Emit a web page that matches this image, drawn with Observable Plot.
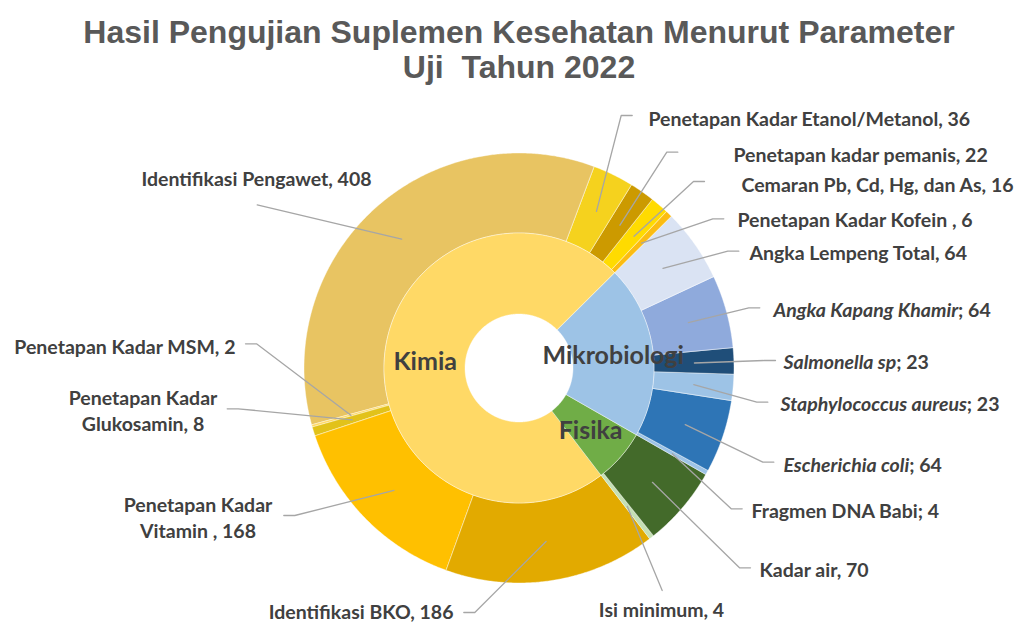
<!DOCTYPE html>
<html><head><meta charset="utf-8">
<script src="https://cdn.jsdelivr.net/npm/d3@7"></script>
<script src="https://cdn.jsdelivr.net/npm/@observablehq/plot@0.6"></script>
<style>
body{margin:0;background:#fff;width:1019px;height:624px;overflow:hidden}
#title{box-sizing:border-box;height:90px;padding:15px 0 0 19px;width:1019px;text-align:center;font-family:"Liberation Sans",Arial,sans-serif;font-weight:bold;font-size:32px;line-height:35px;color:#595959;white-space:pre}
#chart svg{display:block}
</style></head><body>
<div id="title">Hasil Pengujian Suplemen Kesehatan Menurut Parameter
Uji  Tahun 2022</div>
<div id="chart"></div>
<script>
// ---- data ----
const groups = ["Kimia", "Mikrobiologi", "Fisika"];
const parameter = [
  "Identifikasi BKO", "Penetapan Kadar Vitamin ", "Penetapan Kadar Glukosamin", "Penetapan Kadar MSM",
  "Identifikasi Pengawet", "Penetapan Kadar Etanol/Metanol", "Penetapan kadar pemanis",
  "Cemaran Pb, Cd, Hg, dan As", "Penetapan Kadar Kofein ",
  "Angka Lempeng Total", "Angka Kapang Khamir", "Salmonella sp", "Staphylococcus aureus",
  "Escherichia coli", "Fragmen DNA Babi",
  "Kadar air", "Isi minimum"
];
const parameterGroup = [
  "Kimia", "Kimia", "Kimia", "Kimia", "Kimia", "Kimia", "Kimia", "Kimia", "Kimia",
  "Mikrobiologi", "Mikrobiologi", "Mikrobiologi", "Mikrobiologi", "Mikrobiologi", "Mikrobiologi",
  "Fisika", "Fisika"
];
const jumlah = [186, 168, 8, 2, 408, 36, 22, 16, 6, 64, 64, 23, 23, 64, 4, 70, 4];
const separator = [", ", ", ", ", ", ", ", ", ", ", ", ", ", ", ", ", ", ", ", "; ", "; ", "; ", "; ", "; ", ", ", ", "];
const italicName = [false, false, false, false, false, false, false, false, false, false, true, true, true, true, false, false, false];

// ---- styles / layout ----
const groupColor = {Kimia: "#FFD966", Mikrobiologi: "#9DC3E6", Fisika: "#70AD47"};
const paramColor = ["#E2AA00", "#FFC000", "#E2C21A", "#FFD966", "#E8C462", "#F5D21E", "#CC9A00", "#FFDB00", "#FBBC12",
  "#DAE3F3", "#8FAADC", "#1F4E79", "#9DC3E6", "#2E75B6", "#9DC3E6", "#436A2A", "#C5E0B4"];
const START = 142.6;            // degrees clockwise from 12 o'clock
const R_HOLE = 54, R_MID = 135, R_OUT = 215, R_LEADER = 175, R_INNER_LABEL = 94.5;
const CX = 519, CY = 278, W = 1019, H = 534;
// label placement: key, side, anchor, text x, text y, leader end x, leader end y, wrapped
const labelLayout = [
  ["Identifikasi BKO", "left", "end", -66, 242, -55.7, 244, false],
  ["Penetapan Kadar Vitamin ", "left", "middle", -321.5, 148, -235.7, 147, true],
  ["Penetapan Kadar Glukosamin", "left", "middle", -376.5, 41, -292.3, 40.3, true],
  ["Penetapan Kadar MSM", "left", "end", -284, -23, -274, -24.7, false],
  ["Identifikasi Pengawet", "above", "middle", -263, -191.3, -262.3, -163.7, false],
  ["Penetapan Kadar Etanol/Metanol", "right", "start", 129, -251, 112.7, -253, false],
  ["Penetapan kadar pemanis", "right", "start", 214, -215, 158.3, -216.3, false],
  ["Cemaran Pb, Cd, Hg, dan As", "right", "start", 222, -185, 185, -187, false],
  ["Penetapan Kadar Kofein ", "right", "start", 218, -150, 204.3, -149.7, false],
  ["Angka Lempeng Total", "right", "start", 230, -117, 219.3, -117.3, false],
  ["Angka Kapang Khamir", "right", "start", 254, -60, 240.3, -60.7, false],
  ["Salmonella sp", "right", "start", 264, -8, 256, -8, false],
  ["Staphylococcus aureus", "right", "start", 261, 34, 248.3, 33.7, false],
  ["Escherichia coli", "right", "start", 264, 95, 254.3, 93.7, false],
  ["Fragmen DNA Babi", "right", "start", 232, 141, 222.7, 140.3, false],
  ["Kadar air", "right", "start", 240, 200, 231, 199.3, false],
  ["Isi minimum", "below", "middle", 142, 240, 142.7, 222, false]
];

// ---- geometry ----
const total = d3.sum(jumlah);
const deg = v => v / total * 360;
const rad = a => a * Math.PI / 180;
const px = (r, a) => r * Math.sin(rad(a));
const py = (r, a) => -r * Math.cos(rad(a));

let acc = START;
const outer = parameter.map((p, i) => {
  const a0 = acc; acc += deg(jumlah[i]);
  return {key: p, value: jumlah[i], a0, a1: acc, color: paramColor[i], i};
});
acc = START;
const inner = groups.map(g => {
  const v = d3.sum(jumlah.filter((_, i) => parameterGroup[i] === g));
  const a0 = acc; acc += deg(v);
  return {key: g, value: v, a0, a1: acc, color: groupColor[g]};
});

function ring(slices, r0, r1) {
  const pts = [];
  for (const s of slices) {
    const n = Math.max(2, Math.ceil((s.a1 - s.a0) / 0.4) + 1);
    for (let k = 0; k < n; k++) {
      const a = s.a0 + (s.a1 - s.a0) * k / (n - 1);
      pts.push({key: s.key, color: s.color, x1: px(r0, a), y1: py(r0, a), x2: px(r1, a), y2: py(r1, a)});
    }
  }
  return pts;
}

const leaders = [];
const labels = [];
for (const [key, side, anchor, tx, ty, ex, ey, wrap] of labelLayout) {
  const s = outer.find(d => d.key === key);
  const mid = (s.a0 + s.a1) / 2;
  leaders.push({key, x: px(R_LEADER, mid), y: py(R_LEADER, mid)});
  if (side === "right") leaders.push({key, x: ex - 11, y: ey});
  if (side === "left") leaders.push({key, x: ex + 11, y: ey});
  leaders.push({key, x: ex, y: ey});
  let name = parameter[s.i];
  if (italicName[s.i]) name = "§" + name + "§";
  let text = name + separator[s.i] + jumlah[s.i];
  if (wrap) text = text.replace("Penetapan Kadar ", "Penetapan Kadar\n");
  labels.push({x: tx, y: ty, anchor, text});
}

const innerLabels = inner.map(d => ({key: d.key, x: px(R_INNER_LABEL, (d.a0 + d.a1) / 2), y: py(R_INNER_LABEL, (d.a0 + d.a1) / 2)}));

const labelFont = {fontFamily: "Lato, 'Open Sans', sans-serif", fontWeight: "bold", fontSize: 19.5, fill: "#404040", lineHeight: 1.33};

const chart = Plot.plot({
  width: W, height: H, margin: 0,
  x: {domain: [-CX, W - CX], range: [0, W], axis: null},
  y: {domain: [-CY, H - CY], range: [0, H], axis: null},
  color: {type: "identity"},
  marks: [
    Plot.area(ring(outer, R_MID, R_OUT), {x1: "x1", y1: "y1", x2: "x2", y2: "y2", z: "key", fill: "color", stroke: "white", strokeWidth: 0.6, strokeOpacity: 0.7}),
    Plot.area(ring(inner, R_HOLE, R_MID), {x1: "x1", y1: "y1", x2: "x2", y2: "y2", z: "key", fill: "color", stroke: "white", strokeWidth: 0.6, strokeOpacity: 0.7}),
    Plot.line(leaders, {x: "x", y: "y", z: "key", stroke: "#A6A6A6", strokeWidth: 1.3}),
    ...["start", "end", "middle"].map(a => Plot.text(labels.filter(d => d.anchor === a), {x: "x", y: "y", text: "text", textAnchor: a, ...labelFont})),
    Plot.text(innerLabels, {x: "x", y: "y", text: "key", fontFamily: "Lato, 'Open Sans', sans-serif", fontWeight: "bold", fontSize: 25, fill: "#404040"})
  ]
});

// italic name parts (marked with §)
chart.querySelectorAll("text").forEach(t => {
  const targets = t.querySelectorAll("tspan").length ? Array.from(t.querySelectorAll("tspan")) : [t];
  for (const el of targets) {
    const s = el.textContent;
    if (!s.includes("§")) continue;
    const parts = s.split("§");
    el.textContent = "";
    parts.forEach((p, k) => {
      if (!p) return;
      const ts = document.createElementNS("http://www.w3.org/2000/svg", "tspan");
      ts.textContent = p;
      if (k % 2 === 1) ts.setAttribute("font-style", "italic");
      el.appendChild(ts);
    });
  }
});

document.getElementById("chart").appendChild(chart);
</script>
</body></html>
